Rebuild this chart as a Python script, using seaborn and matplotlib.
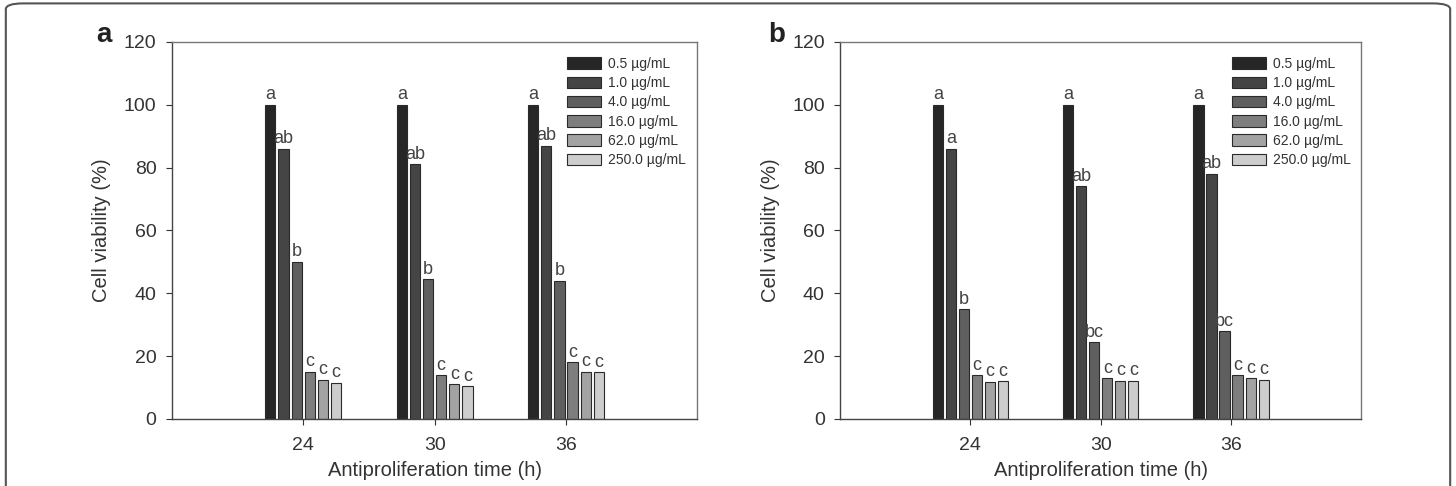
import numpy as np
import pandas as pd
import matplotlib
matplotlib.use("Agg")
import matplotlib.pyplot as plt
from matplotlib.patches import FancyBboxPatch
import seaborn as sns

times = ["24", "30", "36"]
concentrations = ["0.5 \u00b5g/mL", "1.0 \u00b5g/mL", "4.0 \u00b5g/mL",
                  "16.0 \u00b5g/mL", "62.0 \u00b5g/mL", "250.0 \u00b5g/mL"]

# panel a values: rows = concentration, columns = time
a_05 = [100, 100, 100]
a_10 = [86, 81, 87]
a_40 = [50, 44.5, 44]
a_16 = [15, 14, 18]
a_62 = [12.5, 11, 15]
a_250 = [11.5, 10.5, 14.8]
a_letters = [["a", "a", "a"], ["ab", "ab", "ab"], ["b", "b", "b"],
             ["c", "c", "c"], ["c", "c", "c"], ["c", "c", "c"]]

# panel b values
b_05 = [100, 100, 100]
b_10 = [86, 74, 78]
b_40 = [35, 24.5, 28]
b_16 = [14, 13, 14]
b_62 = [11.8, 12.2, 13]
b_250 = [12, 12.2, 12.5]
b_letters = [["a", "a", "a"], ["a", "ab", "ab"], ["b", "bc", "bc"],
             ["c", "c", "c"], ["c", "c", "c"], ["c", "c", "c"]]

palette = ["#262626", "#454545", "#5f5f5f", "#7e7e7e", "#a3a3a3", "#cdcdcd"]


def make_df(series):
    rows = []
    for conc, vals in zip(concentrations, series):
        for t, v in zip(times, vals):
            rows.append({"time": t, "conc": conc, "value": v})
    return pd.DataFrame(rows)


sns.set_style("white")
plt.rcParams["font.family"] = ["Liberation Sans", "DejaVu Sans"]

fig = plt.figure(figsize=(14.56, 4.86), dpi=100)

# outer rounded frame
frame = FancyBboxPatch((0.004, -0.05), 0.992, 1.043,
                       boxstyle="round,pad=0,rounding_size=0.012",
                       transform=fig.transFigure, fill=False,
                       edgecolor="#555555", linewidth=1.5, zorder=0)
fig.patches.append(frame)

panels = [
    ("a", [a_05, a_10, a_40, a_16, a_62, a_250], a_letters, [0.118, 0.138, 0.361, 0.776], -0.143),
    ("b", [b_05, b_10, b_40, b_16, b_62, b_250], b_letters, [0.577, 0.138, 0.358, 0.776], -0.138),
]

for tag, series, letters, pos, tagx in panels:
    ax = fig.add_axes(pos)
    df = make_df(series)
    sns.barplot(data=df, x="time", y="value", hue="conc", order=times,
                hue_order=concentrations, palette=palette, width=0.6, gap=0.22,
                edgecolor="#2a2a2a", linewidth=0.8, saturation=1, ax=ax)
    for cont, labs in zip(ax.containers, letters):
        ax.bar_label(cont, labels=labs, padding=1, fontsize=13, color="#444444")
    ax.set_xlim(-1, 3)
    ax.set_ylim(0, 120)
    ax.set_yticks(np.arange(0, 121, 20))
    ax.tick_params(axis="both", labelsize=14, length=4, width=0.8,
                   direction="out", colors="#333333", left=True, bottom=True)
    ax.tick_params(axis="x", pad=9)
    ax.tick_params(axis="y", pad=7)
    for s in ax.spines.values():
        s.set_color("#777777")
        s.set_linewidth(1.0)
    ax.spines["left"].set_color("#444444")
    ax.spines["bottom"].set_color("#444444")
    ax.set_xlabel("Antiproliferation time (h)", fontsize=14.5, color="#333333", labelpad=5)
    ax.set_ylabel("Cell viability (%)", fontsize=14.5, color="#333333", labelpad=9)
    leg = ax.legend(title=None, frameon=False, loc="upper left",
                    bbox_to_anchor=(0.742, 0.975), fontsize=10,
                    handlelength=2.4, handleheight=0.9, labelspacing=0.38,
                    handletextpad=0.5, borderaxespad=0)
    for t in leg.get_texts():
        t.set_color("#333333")
    ax.text(tagx, 1.018, tag, transform=ax.transAxes, fontsize=20,
            fontweight="bold", va="center", ha="left", color="#222222")

fig.savefig("out.png", dpi=100)
